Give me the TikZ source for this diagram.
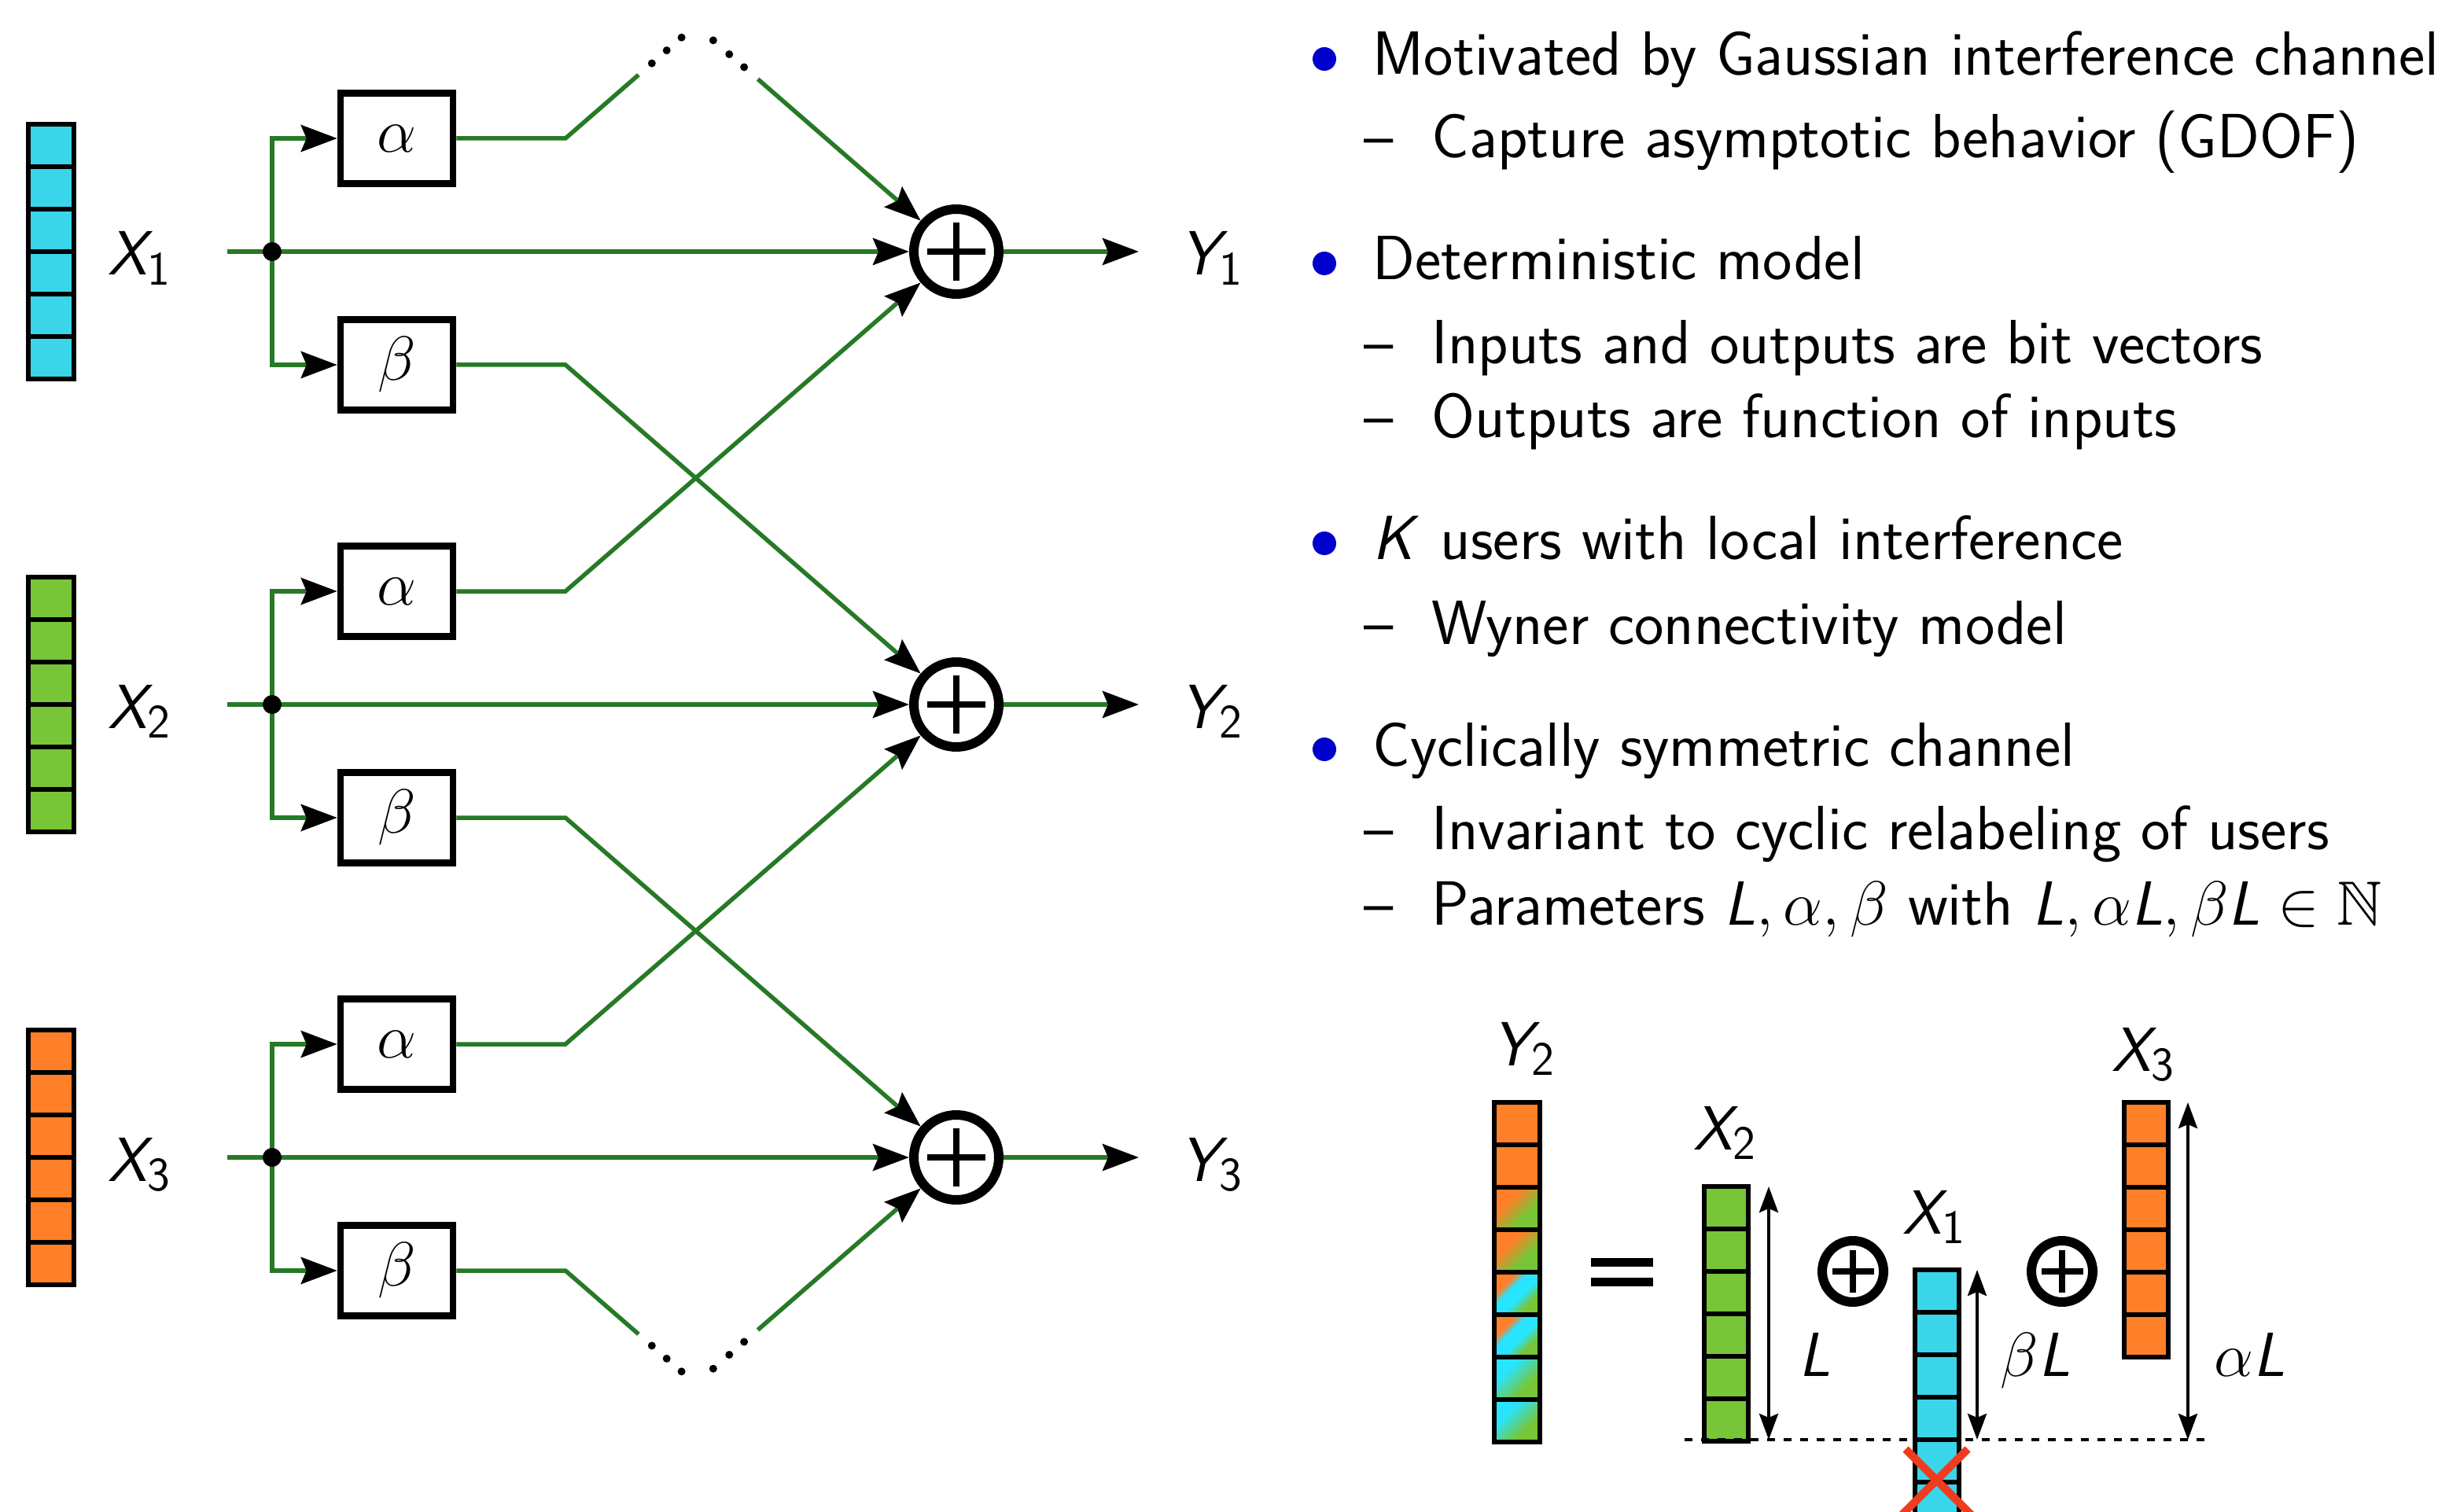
\RequirePackage{fix-cm}
\documentclass[tikz,border=0pt]{standalone}
\usepackage{amssymb}
\usetikzlibrary{arrows.meta,calc}

\renewcommand{\familydefault}{\sfdefault}
% slanted sans letters and upright sans digits in formulas
\DeclareSymbolFont{sfletters}{OT1}{cmss}{m}{sl}
\SetSymbolFont{operators}{normal}{OT1}{cmss}{m}{n}
\DeclareMathSymbol{X}{\mathalpha}{sfletters}{`X}
\DeclareMathSymbol{Y}{\mathalpha}{sfletters}{`Y}
\DeclareMathSymbol{K}{\mathalpha}{sfletters}{`K}
\DeclareMathSymbol{L}{\mathalpha}{sfletters}{`L}
\DeclareMathSizes{22.6}{22.6}{17.4}{12.5}

\definecolor{wiregreen}{RGB}{38,122,38}
\definecolor{bitcyan}{RGB}{59,213,234}
\definecolor{bitgreen}{RGB}{120,197,56}
\definecolor{bitorange}{RGB}{255,128,40}
\definecolor{mixcyan}{RGB}{40,228,255}
\definecolor{itemblue}{RGB}{0,0,204}
\definecolor{dropred}{RGB}{240,60,30}

% diagonal blends for the received bits
\pgfdeclarehorizontalshading{flatorange}{100bp}{color(0bp)=(bitorange); color(100bp)=(bitorange)}
\pgfdeclarehorizontalshading{orangegreen}{100bp}{color(0bp)=(bitorange); color(38bp)=(bitorange); color(62bp)=(bitgreen); color(100bp)=(bitgreen)}
\pgfdeclarehorizontalshading{threemix}{100bp}{color(0bp)=(bitorange); color(33bp)=(bitorange); color(42bp)=(mixcyan); color(55bp)=(mixcyan); color(68bp)=(bitgreen); color(100bp)=(bitgreen)}
\pgfdeclarehorizontalshading{cyangreen}{100bp}{color(0bp)=(mixcyan); color(36bp)=(mixcyan); color(64bp)=(bitgreen); color(100bp)=(bitgreen)}

\begin{document}
\begin{tikzpicture}[
  font=\fontsize{22.6}{27}\selectfont,
  wire/.style={draw=wiregreen, line width=0.055cm},
  feed/.style={-{Stealth[color=black,length=0.46cm,width=0.34cm,inset=0.07cm]}},
  gain/.style={draw, line width=0.085cm, minimum width=1.43cm, minimum height=1.15cm, inner sep=0},
  sum/.style={circle, draw, line width=0.12cm, minimum size=1.08cm, inner sep=0,
    path picture={\draw[line width=0.075cm]
      ($(path picture bounding box.west)!0.16!(path picture bounding box.east)$) --
      ($(path picture bounding box.west)!0.84!(path picture bounding box.east)$)
      ($(path picture bounding box.south)!0.16!(path picture bounding box.north)$) --
      ($(path picture bounding box.south)!0.84!(path picture bounding box.north)$);}},
  bit/.style={draw, line width=0.06cm},
  measure/.style={{Stealth[length=0.33cm,width=0.24cm,inset=0.05cm]}-{Stealth[length=0.33cm,width=0.24cm,inset=0.05cm]}, line width=0.04cm},
  item/.style={anchor=base west, inner sep=0}
]
\useasboundingbox (0,0) rectangle (31.14,-19.23);

% three users: input vector, gains, adder, output
\foreach \i/\y/\c in {1/-3.20/bitcyan, 2/-8.96/bitgreen, 3/-14.72/bitorange} {
  \foreach \k in {0,...,5}
    \draw[bit, fill=\c] (0.36,{\y+1.62-0.54*\k}) rectangle ++(0.58,-0.54);
  \node[item] (x\i) at (1.37,\y-0.30) {$X_\i$};
  \coordinate (in\i) at (2.89,\y);
  \coordinate (j\i) at (3.46,\y);
  \node[gain] (a\i) at (5.045,\y+1.44) {$\alpha$};
  \node[gain] (b\i) at (5.045,\y-1.44) {$\beta$};
  \coordinate (ka\i) at (7.19,\y+1.44);
  \coordinate (kb\i) at (7.19,\y-1.44);
  \node[sum] (s\i) at (12.16,\y) {};
  \coordinate (o\i) at (14.48,\y);
  \node[item] (y\i) at (15.00,\y-0.30) {$Y_\i$};
  \draw[wire,feed] (in\i) -- (s\i);
  \draw[wire,feed] (j\i) |- (a\i);
  \draw[wire,feed] (j\i) |- (b\i);
  \fill (j\i) circle (0.12);
  \draw[wire,feed] (s\i) -- (o\i);
}

% cross links to the neighbours
\draw[wire,feed] (a2.east) -- (ka2) -- (s1);
\draw[wire,feed] (a3.east) -- (ka3) -- (s2);
\draw[wire,feed] (b1.east) -- (kb1) -- (s2);
\draw[wire,feed] (b2.east) -- (kb2) -- (s3);

% links that leave the picture
\coordinate (s0) at (12.16,2.56);
\coordinate (kb0) at (7.19,1.12);
\coordinate (s4) at (12.16,-20.48);
\coordinate (ka4) at (7.19,-19.04);
\draw[wire] (a1.east) -- (ka1) -- ($(ka1)!0.187!(s0)$);
\draw[wire,feed] ($(kb0)!0.492!(s1.center)$) -- (s1);
\draw[wire] (b3.east) -- (kb3) -- ($(kb3)!0.187!(s4)$);
\draw[wire,feed] ($(ka4)!0.492!(s3.center)$) -- (s3);
\foreach \t in {0.221,0.259,0.297} {
  \fill ($(ka1)!\t!(s0)$) circle (0.05);
  \fill ($(kb3)!\t!(s4)$) circle (0.05);
}
\foreach \t in {0.378,0.419,0.457} {
  \fill ($(kb0)!\t!(s1.center)$) circle (0.05);
  \fill ($(ka4)!\t!(s3.center)$) circle (0.05);
}

% bullet list
\foreach \y in {-0.75,-3.35,-6.91,-9.53}
  \fill[itemblue] (16.84,\y) circle (0.15);
\node[item] (t1) at (17.45,-0.96) {Motivated by Gaussian interference channel};
\node[item] (t2) at (17.34,-2.01) {\makebox[0.86cm][l]{--}Capture asymptotic behavior (GDOF)};
\node[item] (t3) at (17.45,-3.56) {Deterministic model};
\node[item] (t4) at (17.34,-4.63) {\makebox[0.86cm][l]{--}Inputs and outputs are bit vectors};
\node[item] (t5) at (17.34,-5.57) {\makebox[0.86cm][l]{--}Outputs are function of inputs};
\node[item] (t6) at (17.45,-7.12) {$K$ users with local interference};
\node[item] (t7) at (17.34,-8.19) {\makebox[0.86cm][l]{--}Wyner connectivity model};
\node[item] (t8) at (17.45,-9.74) {Cyclically symmetric channel};
\node[item] (t9) at (17.34,-10.80) {\makebox[0.86cm][l]{--}Invariant to cyclic relabeling of users};
\node[item] (t10) at (17.34,-11.76) {\makebox[0.86cm][l]{--}Parameters $L,\alpha,\beta$ with $L,\alpha L,\beta L\in\mathbb{N}$};

% received vector of user 2
\foreach \k/\sh in {0/flatorange,1/flatorange,2/orangegreen,3/orangegreen,4/threemix,5/threemix,6/cyangreen,7/cyangreen}
  \shade[shading=\sh, shading angle=-45] (19.00,{-14.02-0.54*\k}) rectangle ++(0.58,-0.54);
\foreach \k in {0,...,7}
  \draw[bit] (19.00,{-14.02-0.54*\k}) rectangle ++(0.58,-0.54);
\node[item] (ly2) at (18.97,-13.55) {$Y_2$};

% equals sign
\draw[line width=0.11cm] (20.23,-16.05) -- (21.02,-16.05) (20.23,-16.30) -- (21.02,-16.30);

% shifted inputs
\foreach \k in {0,...,5} {
  \draw[bit, fill=bitgreen] (21.67,{-15.09-0.54*\k}) rectangle ++(0.56,-0.54);
  \draw[bit, fill=bitcyan] (24.35,{-16.15-0.54*\k}) rectangle ++(0.56,-0.54);
  \draw[bit, fill=bitorange] (27.01,{-14.02-0.54*\k}) rectangle ++(0.56,-0.54);
}
\node[item] (lx2) at (21.53,-14.62) {$X_2$};
\node[item] (lx1) at (24.19,-15.69) {$X_1$};
\node[item] (lx3) at (26.85,-13.62) {$X_3$};
\node[sum, minimum size=0.78cm, line width=0.12cm] (p1) at (23.56,-16.17) {};
\node[sum, minimum size=0.78cm, line width=0.12cm] (p2) at (26.22,-16.17) {};

% common floor and lengths
\coordinate (basew) at (21.42,-18.31);
\coordinate (basee) at (28.08,-18.31);
\draw[line width=0.045cm, dash pattern=on 0.10cm off 0.11cm] (basew) -- (basee);
\coordinate (lt) at (22.49,-15.09);
\coordinate (lb) at (22.49,-18.31);
\coordinate (bt) at (25.14,-16.15);
\coordinate (bb) at (25.14,-18.31);
\coordinate (at) at (27.82,-14.02);
\coordinate (ab) at (27.82,-18.31);
\draw[measure] (lt) -- (lb);
\draw[measure] (bt) -- (bb);
\draw[measure] (at) -- (ab);
\node[item] (ll) at (22.87,-17.50) {$L$};
\node[item] (lbl) at (25.43,-17.50) {$\beta L$};
\node[item] (lal) at (28.15,-17.50) {$\alpha L$};

% dropped bits
\draw[dropred, line width=0.10cm] (24.23,-18.43) -- (25.13,-19.33) (25.02,-18.43) -- (24.12,-19.33);
\end{tikzpicture}
\end{document}
